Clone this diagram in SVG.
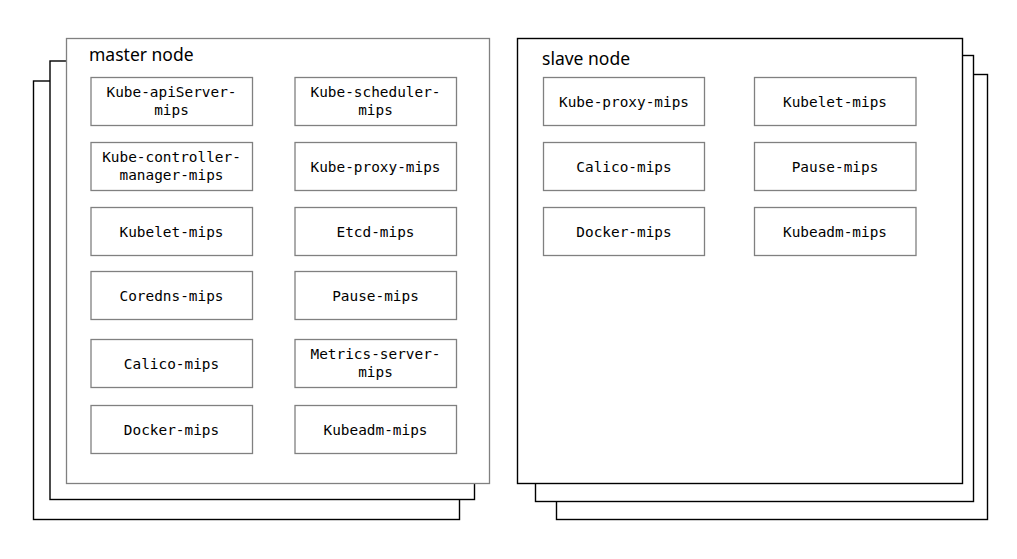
<svg xmlns="http://www.w3.org/2000/svg" width="1017" height="559" viewBox="0 0 1017 559">
<style>
.bg{fill:#fff}
.stk{fill:#fff;stroke:#000;stroke-width:1.4}
.front{fill:#fff;stroke:#808080;stroke-width:1.3}
.box{fill:#fff;stroke:#808080;stroke-width:1.3}
.t{font-family:"DejaVu Sans Mono","Liberation Mono",monospace;font-size:14.4px;fill:#000;text-anchor:middle}
.title{font-family:"Noto Sans","Open Sans","Liberation Sans",sans-serif;font-size:17.5px;fill:#000}
</style>
<rect class="bg" x="0" y="0" width="1017" height="559"/>
<g id="master">
<rect class="stk" x="33.5" y="81" width="426" height="438.5"/>
<rect class="stk" x="50" y="61" width="424.5" height="438.5"/>
<rect class="front" x="66.5" y="38.5" width="423" height="445"/>
<text class="title" x="89" y="60.5">master node</text>
</g>
<g id="slave">
<rect class="stk" x="556.5" y="74.5" width="431" height="445"/>
<rect class="stk" x="535.5" y="55.5" width="438" height="446"/>
<rect class="stk" x="517.5" y="38.5" width="445" height="445"/>
<text class="title" x="542" y="65">slave node</text>
</g>
<g id="m-apiserver"><rect class="box" x="91" y="77.5" width="161.5" height="48"/><text class="t" x="171.5" y="96.5">Kube-apiServer-</text><text class="t" x="171.5" y="114.5">mips</text></g>
<g id="m-scheduler"><rect class="box" x="295" y="77.5" width="161.5" height="48"/><text class="t" x="375.5" y="96.5">Kube-scheduler-</text><text class="t" x="375.5" y="114.5">mips</text></g>
<g id="m-controller"><rect class="box" x="91" y="142.5" width="161.5" height="48"/><text class="t" x="171.5" y="162">Kube-controller-</text><text class="t" x="171.5" y="180">manager-mips</text></g>
<g id="m-proxy"><rect class="box" x="295" y="142.5" width="161.5" height="48"/><text class="t" x="375.5" y="171.5">Kube-proxy-mips</text></g>
<g id="m-kubelet"><rect class="box" x="91" y="207.5" width="161.5" height="48"/><text class="t" x="171.5" y="236.5">Kubelet-mips</text></g>
<g id="m-etcd"><rect class="box" x="295" y="207.5" width="161.5" height="48"/><text class="t" x="375.5" y="236.5">Etcd-mips</text></g>
<g id="m-coredns"><rect class="box" x="91" y="271.5" width="161.5" height="48"/><text class="t" x="171.5" y="300.5">Coredns-mips</text></g>
<g id="m-pause"><rect class="box" x="295" y="271.5" width="161.5" height="48"/><text class="t" x="375.5" y="300.5">Pause-mips</text></g>
<g id="m-calico"><rect class="box" x="91" y="339.5" width="161.5" height="48"/><text class="t" x="171.5" y="368.5">Calico-mips</text></g>
<g id="m-metrics"><rect class="box" x="295" y="339.5" width="161.5" height="48"/><text class="t" x="375.5" y="358.5">Metrics-server-</text><text class="t" x="375.5" y="376.5">mips</text></g>
<g id="m-docker"><rect class="box" x="91" y="405.5" width="161.5" height="48"/><text class="t" x="171.5" y="434.5">Docker-mips</text></g>
<g id="m-kubeadm"><rect class="box" x="295" y="405.5" width="161.5" height="48"/><text class="t" x="375.5" y="434.5">Kubeadm-mips</text></g>
<g id="s-proxy"><rect class="box" x="543.5" y="77.5" width="161" height="48"/><text class="t" x="624" y="106.5">Kube-proxy-mips</text></g>
<g id="s-kubelet"><rect class="box" x="754.5" y="77.5" width="161.5" height="48"/><text class="t" x="835" y="106.5">Kubelet-mips</text></g>
<g id="s-calico"><rect class="box" x="543.5" y="142.5" width="161" height="48"/><text class="t" x="624" y="171.5">Calico-mips</text></g>
<g id="s-pause"><rect class="box" x="754.5" y="142.5" width="161.5" height="48"/><text class="t" x="835" y="171.5">Pause-mips</text></g>
<g id="s-docker"><rect class="box" x="543.5" y="207.5" width="161" height="48"/><text class="t" x="624" y="236.5">Docker-mips</text></g>
<g id="s-kubeadm"><rect class="box" x="754.5" y="207.5" width="161.5" height="48"/><text class="t" x="835" y="236.5">Kubeadm-mips</text></g>
<g id="connectors"></g>
</svg>
